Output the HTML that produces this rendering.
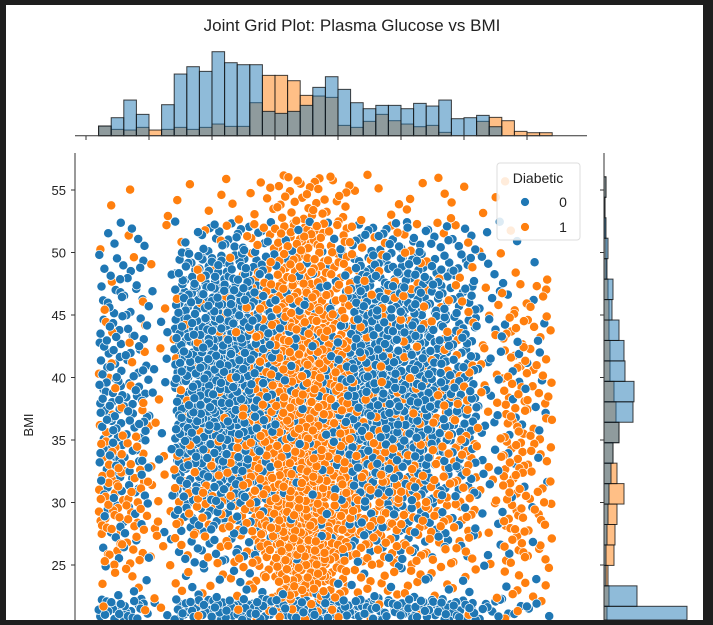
<!DOCTYPE html>
<html><head><meta charset="utf-8"><style>
html,body{margin:0;padding:0;background:#1e1e1e;}
svg{display:block;font-family:"Liberation Sans","DejaVu Sans",sans-serif;}
</style></head><body>
<svg id="c" width="713" height="625" viewBox="0 0 713 625" xmlns="http://www.w3.org/2000/svg">
<rect x="6" y="5" width="697" height="615" fill="#fff"/>
<text x="352" y="31" font-size="17" text-anchor="middle" fill="#222">Joint Grid Plot: Plasma Glucose vs BMI</text>
<g id="topHist"></g>
<g id="rightHist"></g>
<g id="scatter"></g>
<g id="axes"></g>
<text transform="translate(33,425) rotate(-90)" font-size="13" text-anchor="middle" fill="#222">BMI</text>
<g>
<rect x="497" y="163" width="83" height="77" rx="3" fill="#fff" fill-opacity="0.85" stroke="#ddd"/>
<text x="538" y="183" font-size="14" text-anchor="middle" fill="#222">Diabetic</text>
<circle cx="525" cy="202" r="4.5" fill="#1f77b4" stroke="#fff" stroke-width="0.8"/>
<text x="563" y="207" font-size="14" text-anchor="middle" fill="#222">0</text>
<circle cx="525" cy="227" r="4.5" fill="#ff7f0e" stroke="#fff" stroke-width="0.8"/>
<text x="563" y="232" font-size="14" text-anchor="middle" fill="#222">1</text>
</g>
<rect x="0" y="620" width="713" height="5" fill="#1e1e1e"/>
</svg>
<script>
// ---- data ----
const glucoseBinStart = 55;
const glucoseBinWidth = 5;
const topBlueCounts = [29,54,107,64,0,93,185,207,193,252,219,213,213,73,67,73,91,145,177,139,99,81,91,91,81,97,89,107,51,54,61,27,0,0,0,0];
const topOrangeCounts = [29,19,17,25,17,19,25,19,25,35,28,28,99,181,181,165,121,119,115,31,25,43,64,45,35,27,31,10,0,0,43,55,45,13,9,9];
const bmiBinStart = 20.06;
const bmiBinWidth = 1.636;
const rightBlueCounts = [83,33,2,2,3,4,5,7,9,15,29,30,21,20,15,8,9,3,4,2,1,2];
const rightOrangeCounts = [3,5,4,10,11,13,20,13,9,15,12,10,6,6,5,5,4,2,2,1,1,2];
const yTicks = [25,30,35,40,45,50,55];
const xTicks = [50,75,100,125,150,175,200,225];
// scatter density grid: columns of glucose (10 wide from 55), rows of BMI (top to bottom)
const gridGlucoseStart = 55;
const gridGlucoseWidth = 10;
const gridBmiEdges = [56.3,52.5,50,47.5,45,42.5,40,37.5,35,32.5,30,27.5,25,22.3,20.5];
const blueGrid = [
[0,0,0,0,0,0,0,0,0,0,0,0,0,0,0,0,0,0],
[3,3,0,4,8,10,6,3,2,3,8,8,8,6,5,2,1,0],
[6,4,1,14,16,18,10,4,3,4,14,14,14,10,8,3,1,1],
[8,6,1,18,22,22,12,5,4,6,18,18,18,14,10,3,1,1],
[10,8,2,22,26,26,14,5,4,7,22,22,20,16,12,4,2,2],
[12,8,2,24,28,28,15,6,5,8,24,24,22,18,12,4,2,2],
[14,10,2,26,30,30,16,7,6,9,26,26,24,18,14,4,3,2],
[14,10,2,26,30,28,16,7,6,9,24,24,22,16,12,4,3,2],
[12,8,2,22,24,22,12,6,5,7,18,18,16,12,10,3,2,1],
[8,6,1,14,16,14,8,5,4,5,12,12,10,8,6,3,2,1],
[6,5,1,10,10,10,5,3,3,4,8,8,8,6,4,2,1,1],
[3,3,1,5,6,6,3,2,2,3,5,5,5,4,3,2,1,1],
[2,2,0,3,3,3,2,1,1,2,3,3,3,2,2,1,1,1],
[14,14,2,16,16,16,16,16,16,16,16,16,16,16,14,8,6,3]
];
const orangeGrid = [
[1,1,1,2,2,3,6,12,14,9,3,3,3,3,2,2,1,0],
[1,1,1,1,2,2,6,14,16,11,3,3,3,2,2,1,1,0],
[1,1,1,1,2,2,6,14,16,11,4,3,3,2,2,1,1,1],
[1,1,1,1,2,2,7,16,18,12,4,3,3,3,3,2,5,4],
[2,2,1,2,2,3,9,20,20,14,5,4,4,3,3,3,7,5],
[2,2,1,2,2,3,11,24,24,16,6,5,4,4,4,3,9,5],
[3,2,1,2,3,4,12,26,26,17,7,6,5,5,6,3,9,6],
[4,3,1,3,3,5,14,30,30,19,8,8,7,6,6,3,9,6],
[8,5,2,6,6,8,16,32,32,21,10,10,8,8,8,3,11,6],
[12,8,3,8,8,8,16,34,34,21,12,12,10,8,8,3,11,6],
[12,8,3,6,6,8,16,34,34,21,12,12,10,8,8,3,11,6],
[8,6,3,4,4,6,14,30,30,18,10,10,8,6,6,2,9,5],
[2,3,2,3,3,4,8,26,26,13,5,5,5,4,3,1,5,3],
[1,1,1,1,1,1,2,6,6,3,1,1,1,1,1,0,2,1]
];
// ---- scales ----
const NS = "http://www.w3.org/2000/svg";
const xS = g => 86 + (g - 50) * 63 / 25;
const yS = b => 190 + (55 - b) * 12.5;
const topBase = 135.7, topK = 1/3;
const rightBase = 604, rightK = 1;
const BLUE = "#1f77b4", ORANGE = "#ff7f0e";
function mk(tag, parent){ const e = document.createElementNS(NS, tag); parent.appendChild(e); return e; }

// top histogram
const th = document.getElementById('topHist');
[[topOrangeCounts, ORANGE, 'orange'], [topBlueCounts, BLUE, 'blue']].forEach(([arr, col, nm]) => {
  arr.forEach((v, i) => {
    if (!v) return;
    const x0 = xS(glucoseBinStart + i*glucoseBinWidth), x1 = xS(glucoseBinStart + (i+1)*glucoseBinWidth);
    const r = mk('rect', th);
    
    
    r.setAttribute('x', x0); r.setAttribute('y', topBase - v*topK);
    r.setAttribute('width', x1 - x0); r.setAttribute('height', v*topK);
    r.setAttribute('fill', col); r.setAttribute('fill-opacity', '0.5');
    r.setAttribute('stroke', '#111'); r.setAttribute('stroke-opacity', '0.8'); r.setAttribute('stroke-width', '1');
  });
});
// right histogram
const rh = document.getElementById('rightHist');
[[rightOrangeCounts, ORANGE, 'orange'], [rightBlueCounts, BLUE, 'blue']].forEach(([arr, col, nm]) => {
  arr.forEach((v, i) => {
    if (!v) return;
    const yb = yS(bmiBinStart + i*bmiBinWidth), yt = yS(bmiBinStart + (i+1)*bmiBinWidth);
    const top = Math.max(yt, 153), bot = Math.min(yb, 620);
    if (bot <= top) return;
    const r = mk('rect', rh);
    
    
    r.setAttribute('x', rightBase); r.setAttribute('y', top);
    r.setAttribute('width', v*rightK); r.setAttribute('height', bot - top);
    r.setAttribute('fill', col); r.setAttribute('fill-opacity', '0.5');
    r.setAttribute('stroke', '#111'); r.setAttribute('stroke-opacity', '0.8'); r.setAttribute('stroke-width', '1');
  });
});
// scatter
const sc = document.getElementById('scatter');
function halton(i, b){ let f = 1, r = 0; while (i > 0){ f /= b; r += f * (i % b); i = Math.floor(i / b); } return r; }
const pts = [];
let seq = 1;
for (let r = 0; r < gridBmiEdges.length - 1; r++) {
  const bTop = gridBmiEdges[r], bBot = gridBmiEdges[r+1];
  for (let c = 0; c < blueGrid[r].length; c++) {
    const g0 = gridGlucoseStart + c*gridGlucoseWidth;
    [[blueGrid[r][c], BLUE, 'blue'], [orangeGrid[r][c], ORANGE, 'orange']].forEach(([n, col, nm]) => {
      for (let k = 0; k < n; k++) {
        const u = halton(seq, 2), w = halton(seq, 3), o = halton(seq, 5);
        seq++;
        pts.push({g: g0 + u*gridGlucoseWidth, b: bBot + w*(bTop - bBot), col, nm, o});
      }
    });
  }
}
pts.sort((a, b) => a.o - b.o);
pts.forEach(p => {
  const cy = yS(p.b);
  if (cy > 620 || cy < 150) return;
  const e = mk('circle', sc);
  
  
  e.setAttribute('cx', xS(p.g).toFixed(1)); e.setAttribute('cy', cy.toFixed(1));
  e.setAttribute('r', '4.6'); e.setAttribute('fill', p.col);
  e.setAttribute('stroke', '#fff'); e.setAttribute('stroke-width', '0.7');
});
// axes
const ax = document.getElementById('axes');
function line(x1,y1,x2,y2,name){ const l = mk('line', ax);
  
  
  l.setAttribute('x1',x1); l.setAttribute('y1',y1); l.setAttribute('x2',x2); l.setAttribute('y2',y2);
  l.setAttribute('stroke','#333'); l.setAttribute('stroke-width','1'); }
line(75, 153, 75, 620, 'y-axis-spine');
line(604, 153, 604, 620, 'right-hist-spine');
line(75, 135.7, 587, 135.7, 'top-hist-spine');
xTicks.forEach(t => { line(xS(t), 136, xS(t), 140, 'top-hist-tick'); });
yTicks.forEach(t => {
  line(71, yS(t), 75, yS(t), 'y-tick');
  line(600, yS(t), 604, yS(t), 'right-hist-tick');
  const tx = mk('text', ax);
  
  
  tx.setAttribute('x', 66); tx.setAttribute('y', yS(t) + 5);
  tx.setAttribute('font-size', '13'); tx.setAttribute('text-anchor', 'end'); tx.setAttribute('fill', '#222');
  tx.textContent = t;
});
</script>
</body></html>
